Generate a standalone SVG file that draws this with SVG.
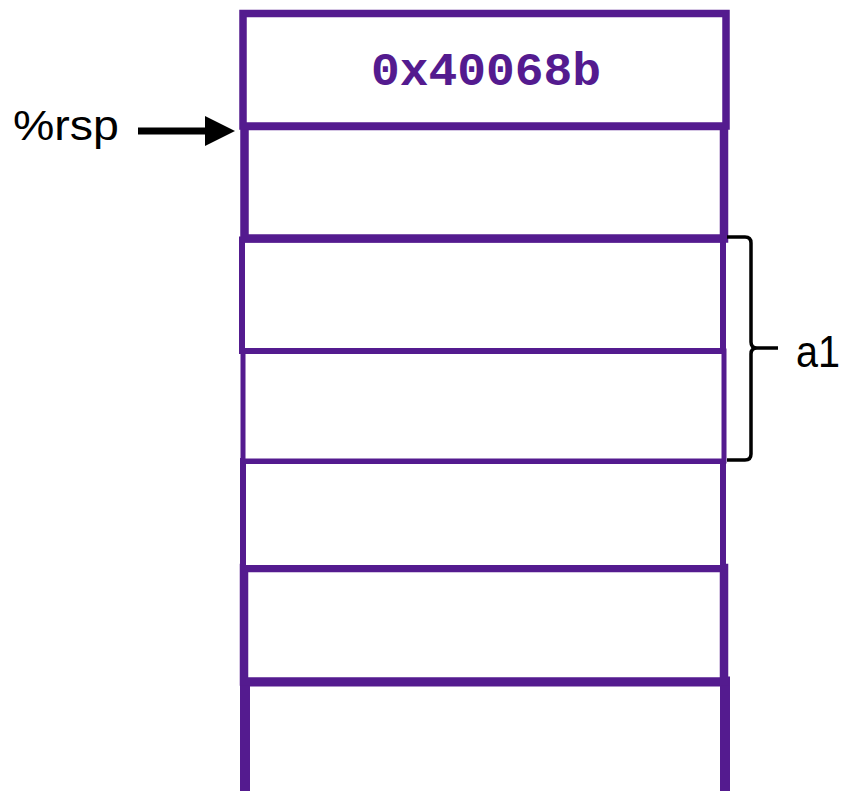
<svg xmlns="http://www.w3.org/2000/svg" width="846" height="791" viewBox="0 0 846 791">
<defs>
<style>
.cell{fill:#ffffff;stroke:#541b8f;}
.hex{font-family:"Liberation Mono","DejaVu Sans Mono",monospace;font-weight:bold;fill:#541b8f;}
.lbl{font-family:"Liberation Sans",Arial,sans-serif;fill:#000000;}
.conn{fill:none;stroke:#000000;}
</style>
<marker id="head" viewBox="0 0 30 30" refX="2" refY="15" markerUnits="userSpaceOnUse" markerWidth="30" markerHeight="30" orient="auto">
<polygon points="0,0 30,15 0,30" fill="#000000"/>
</marker>
</defs>
<rect width="846" height="791" fill="#ffffff"/>
<g id="cell7"><rect class="cell" x="245" y="681.5" width="480" height="130" stroke-width="10"/></g>
<g id="cell6"><rect class="cell" x="244" y="568" width="480" height="113.5" stroke-width="8.5"/></g>
<g id="cell5"><rect class="cell" x="243" y="461" width="480" height="107" stroke-width="6"/></g>
<g id="cell4"><rect class="cell" x="243" y="351" width="481" height="110" stroke-width="5"/></g>
<g id="cell3"><rect class="cell" x="242" y="239.5" width="481" height="111.5" stroke-width="6"/></g>
<g id="cell2"><rect class="cell" x="244.5" y="126" width="479.5" height="112.5" stroke-width="8.5"/></g>
<g id="cell1"><rect class="cell" x="243" y="13.5" width="483" height="112.5" stroke-width="7.5"/>
<text class="hex" x="486" y="85" font-size="47" text-anchor="middle" textLength="230" lengthAdjust="spacingAndGlyphs">0x40068b</text></g>
<g id="rsp"><text class="lbl" x="13" y="140" font-size="42" textLength="106" lengthAdjust="spacingAndGlyphs">%rsp</text></g>
<g id="a1"><text class="lbl" x="796" y="367" font-size="45" textLength="44" lengthAdjust="spacingAndGlyphs">a1</text></g>
<g id="connectors">
<line class="conn" x1="138" y1="131" x2="207" y2="131" stroke-width="7" marker-end="url(#head)"/>
<path class="conn" stroke-width="3.5" d="M727,237 L745,237 Q751,237 751,243 L751,342 Q751,348 757,348 L778,348 M757,348 Q751,348 751,354 L751,454 Q751,460 745,460 L727,460"/>
</g>
</svg>
